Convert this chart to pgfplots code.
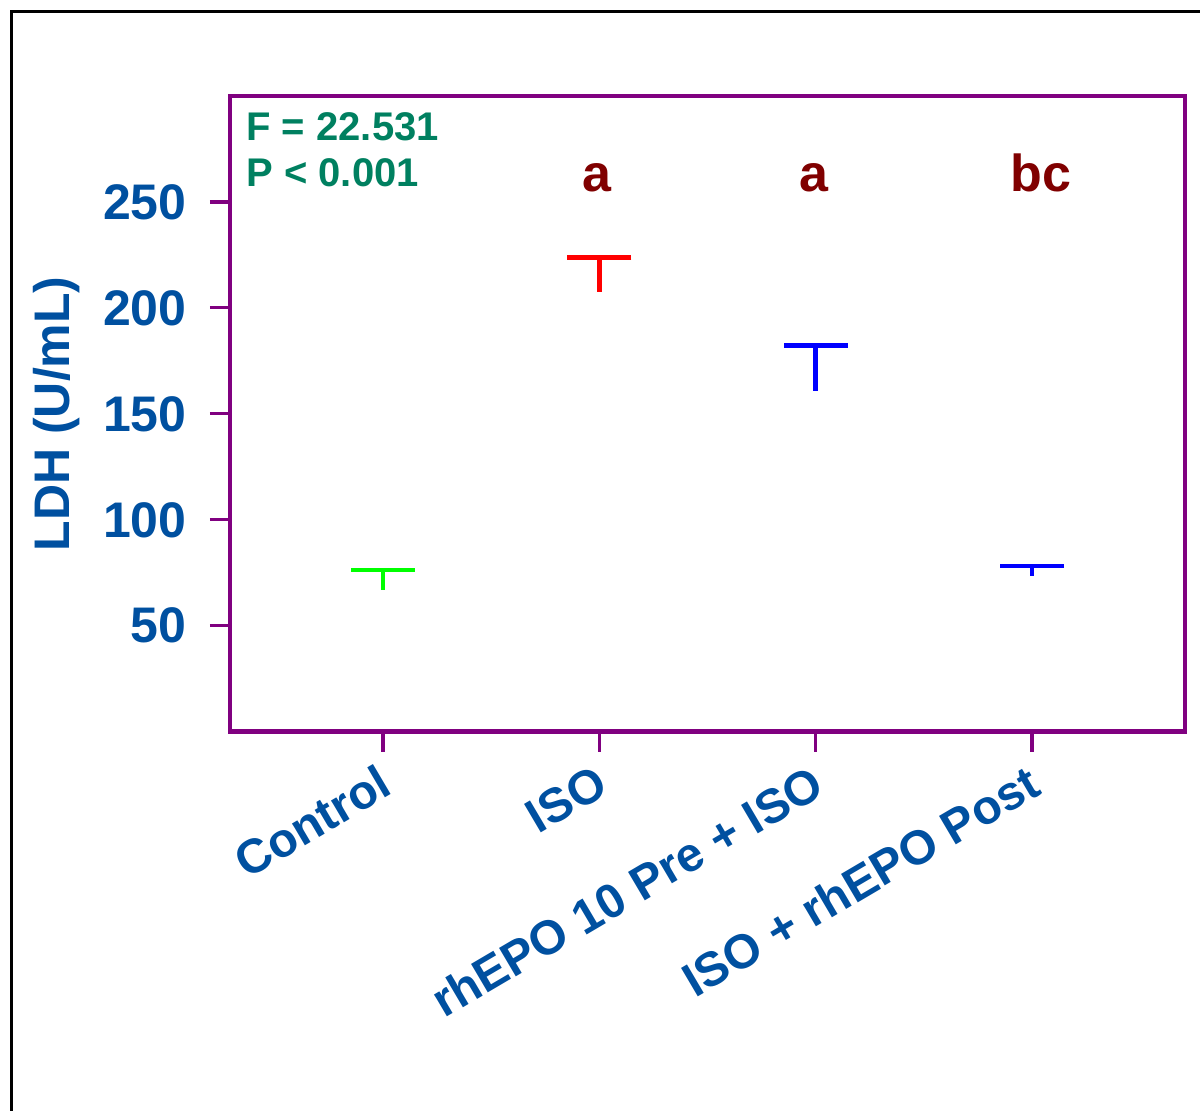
\documentclass[border=0pt]{standalone}
\usepackage{pgfplots}
\pgfplotsset{compat=1.18}
\usepackage{fontspec}
\setmainfont{Liberation Sans}
\definecolor{axpurple}{RGB}{128,0,128}
\definecolor{lblue}{RGB}{0,80,160}
\definecolor{sgreen}{RGB}{0,128,96}
\definecolor{dred}{RGB}{128,0,0}
\definecolor{pgreen}{RGB}{0,255,0}
\definecolor{pred}{RGB}{255,0,0}
\definecolor{pblue}{RGB}{0,0,255}
\begin{document}
\begin{tikzpicture}
\useasboundingbox (-115pt,-189.65pt) rectangle (485pt,365.85pt);
\draw[line width=1.5pt] (-109.25pt,-250pt) -- (-109.25pt,359.85pt) -- (550pt,359.85pt);
\begin{axis}[
  at={(0,0)}, anchor=south west,
  width=477.5pt, height=317.85pt, scale only axis,
  xmin=-0.707, xmax=3.707, ymin=0, ymax=300,
  axis line style={axpurple, line width=2.2pt},
  xtick={0,1,2,3},
  xticklabels={Control, ISO, rhEPO 10 Pre + ISO, ISO + rhEPO Post},
  ytick={50,100,150,200,250},
  tick align=outside,
  xtick pos=bottom, ytick pos=left,
  major tick length=10pt,
  tick style={axpurple, line width=1.6pt},
  /pgf/number format/assume math mode=true,
  yticklabel style={font=\bfseries\fontsize{25}{25}\selectfont, text=lblue, anchor=east, inner sep=0pt, xshift=-11.5pt},
  xticklabel style={font=\bfseries\fontsize{24}{24}\selectfont, text=lblue, inner sep=0pt, anchor=north east,
    xshift=-3pt, yshift=-5.5pt, rotate=30.5},
  every axis y label/.style={at={(axis description cs:0,0.5)}, xshift=-86.5pt, rotate=90, anchor=center,
    font=\bfseries\fontsize{25}{25}\selectfont, text=lblue},
  ylabel={LDH (U/mL)},
  clip=false,
]
\addplot[only marks, mark=-, mark size=16pt, color=pgreen, mark options={line width=2.2pt},
  error bars/.cd, y dir=minus, y explicit, error mark=none, error bar style={line width=2.2pt}]
  coordinates {(0,76.3) -= (0,9.4)};
\addplot[only marks, mark=-, mark size=16pt, color=pred, mark options={line width=2.2pt},
  error bars/.cd, y dir=minus, y explicit, error mark=none, error bar style={line width=2.2pt}]
  coordinates {(1,223.7) -= (0,16.1)};
\addplot[only marks, mark=-, mark size=16pt, color=pblue, mark options={line width=2.2pt},
  error bars/.cd, y dir=minus, y explicit, error mark=none, error bar style={line width=2.2pt}]
  coordinates {(2,182.2) -= (0,21.4)};
\addplot[only marks, mark=-, mark size=16pt, color=pblue, mark options={line width=2.2pt},
  error bars/.cd, y dir=minus, y explicit, error mark=none, error bar style={line width=2.2pt}]
  coordinates {(3,78.1) -= (0,4.5)};
\node[anchor=base west, inner sep=0pt, text=sgreen, font=\bfseries\fontsize{20}{20}\selectfont] at (axis cs:-0.633,279.2) {F = 22.531};
\node[anchor=base west, inner sep=0pt, text=sgreen, font=\bfseries\fontsize{20}{20}\selectfont] at (axis cs:-0.633,257.2) {P < 0.001};
\node[anchor=base, inner sep=0pt, text=dred, font=\bfseries\fontsize{26}{26}\selectfont] at (axis cs:0.99,254.8) {a};
\node[anchor=base, inner sep=0pt, text=dred, font=\bfseries\fontsize{26}{26}\selectfont] at (axis cs:1.99,254.8) {a};
\node[anchor=base, inner sep=0pt, text=dred, font=\bfseries\fontsize{26}{26}\selectfont] at (axis cs:3.04,254.8) {bc};
\end{axis}
\end{tikzpicture}
\end{document}
